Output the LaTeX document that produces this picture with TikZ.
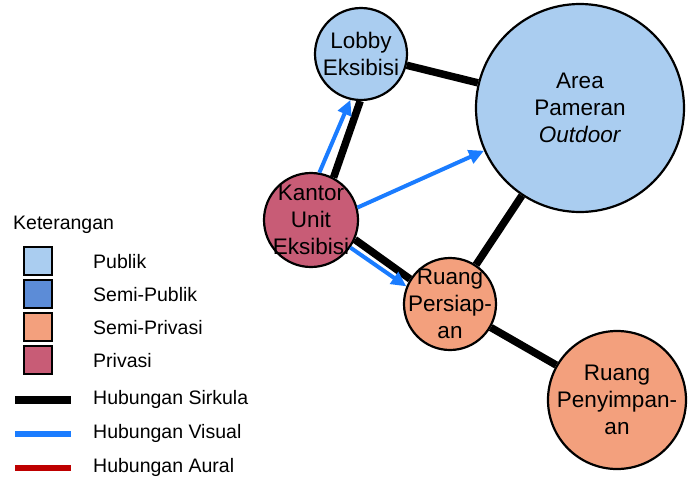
\documentclass[tikz,border=0pt]{standalone}
\usepackage{fontspec}
\setmainfont{Liberation Sans}
\usetikzlibrary{arrows.meta}
\definecolor{publik}{RGB}{170,205,240}
\definecolor{semipublik}{RGB}{92,140,215}
\definecolor{semiprivasi}{RGB}{243,160,125}
\definecolor{privasi}{RGB}{200,92,118}
\definecolor{visblue}{RGB}{26,124,255}
\definecolor{auralred}{RGB}{190,0,0}
\begin{document}
\begin{tikzpicture}[x=1pt,y=-1pt,
  room/.style 2 args={circle,draw=black,line width=2.2pt,inner sep=0pt,
    minimum size=#1,
    label={[align=center,inner sep=0pt,font=\fontsize{22.5}{27}\selectfont]center:#2}},
  circulation/.style={line width=7.5pt,draw=black},
  visual/.style={line width=4pt,draw=visblue,
    -{Triangle[length=15pt,width=14pt]}},
  swatch/.style={draw=black,line width=2.5pt,minimum size=28pt,inner sep=0pt},
  legendtext/.style={anchor=west,inner sep=0pt,font=\fontsize{19.5}{23}\selectfont},
  legendline/.style={line width=#1}
]
\useasboundingbox (0,0) rectangle (694,501);

% rooms (circle size fixed, name set as a centred label)
\node[room={92pt}{Lobby\\Eksibisi},fill=publik] (lobby) at (361,54) {};
\node[room={208pt}{Area\\Pameran\\\textit{Outdoor}},fill=publik] (area) at (580,108) {};
\node[room={94pt}{Kantor\\Unit\\Eksibisi},fill=privasi] (kantor) at (311,220) {};
\node[room={92pt}{Ruang\\Persiap-\\an},fill=semiprivasi] (persiapan) at (450,304) {};
\node[room={138pt}{Ruang\\Penyimpan-\\an},fill=semiprivasi] (penyimpanan) at (617,400) {};

% circulation links
\draw[circulation] (lobby) -- (area);
\draw[circulation] (kantor.62) -- (lobby.269);
\draw[circulation] (kantor.336) -- (persiapan.148);
\draw[circulation] (area) -- (persiapan);
\draw[circulation] (persiapan) -- (penyimpanan);

% visual links
\draw[visual] (kantor.80) -- (lobby.257);
\draw[visual] (kantor.15) -- (area.204);
\draw[visual] (kantor.325) -- (persiapan.158);

% legend
\node[legendtext] (ket) at (13,225) {Keterangan};
\node[swatch,fill=publik] (s1) at (38,261) {};
\node[swatch,fill=semipublik] (s2) at (38,294) {};
\node[swatch,fill=semiprivasi] (s3) at (38,327) {};
\node[swatch,fill=privasi] (s4) at (38,360) {};
\node[legendtext] (l1) at (93,262) {Publik};
\node[legendtext] (l2) at (93,295) {Semi-Publik};
\node[legendtext] (l3) at (93,328) {Semi-Privasi};
\node[legendtext] (l4) at (93,361) {Privasi};

\coordinate (c1a) at (15,400); \coordinate (c1b) at (71,400);
\coordinate (c2a) at (15,434); \coordinate (c2b) at (71,434);
\coordinate (c3a) at (15,468); \coordinate (c3b) at (71,468);
\draw[legendline=8pt,black] (c1a) -- (c1b);
\draw[legendline=6pt,visblue] (c2a) -- (c2b);
\draw[legendline=6pt,auralred] (c3a) -- (c3b);
\node[legendtext] (l5) at (93,399) {Hubungan Sirkula};
\node[legendtext] (l6) at (93,433) {Hubungan Visual};
\node[legendtext] (l7) at (93,467) {Hubungan Aural};
\end{tikzpicture}
\end{document}
